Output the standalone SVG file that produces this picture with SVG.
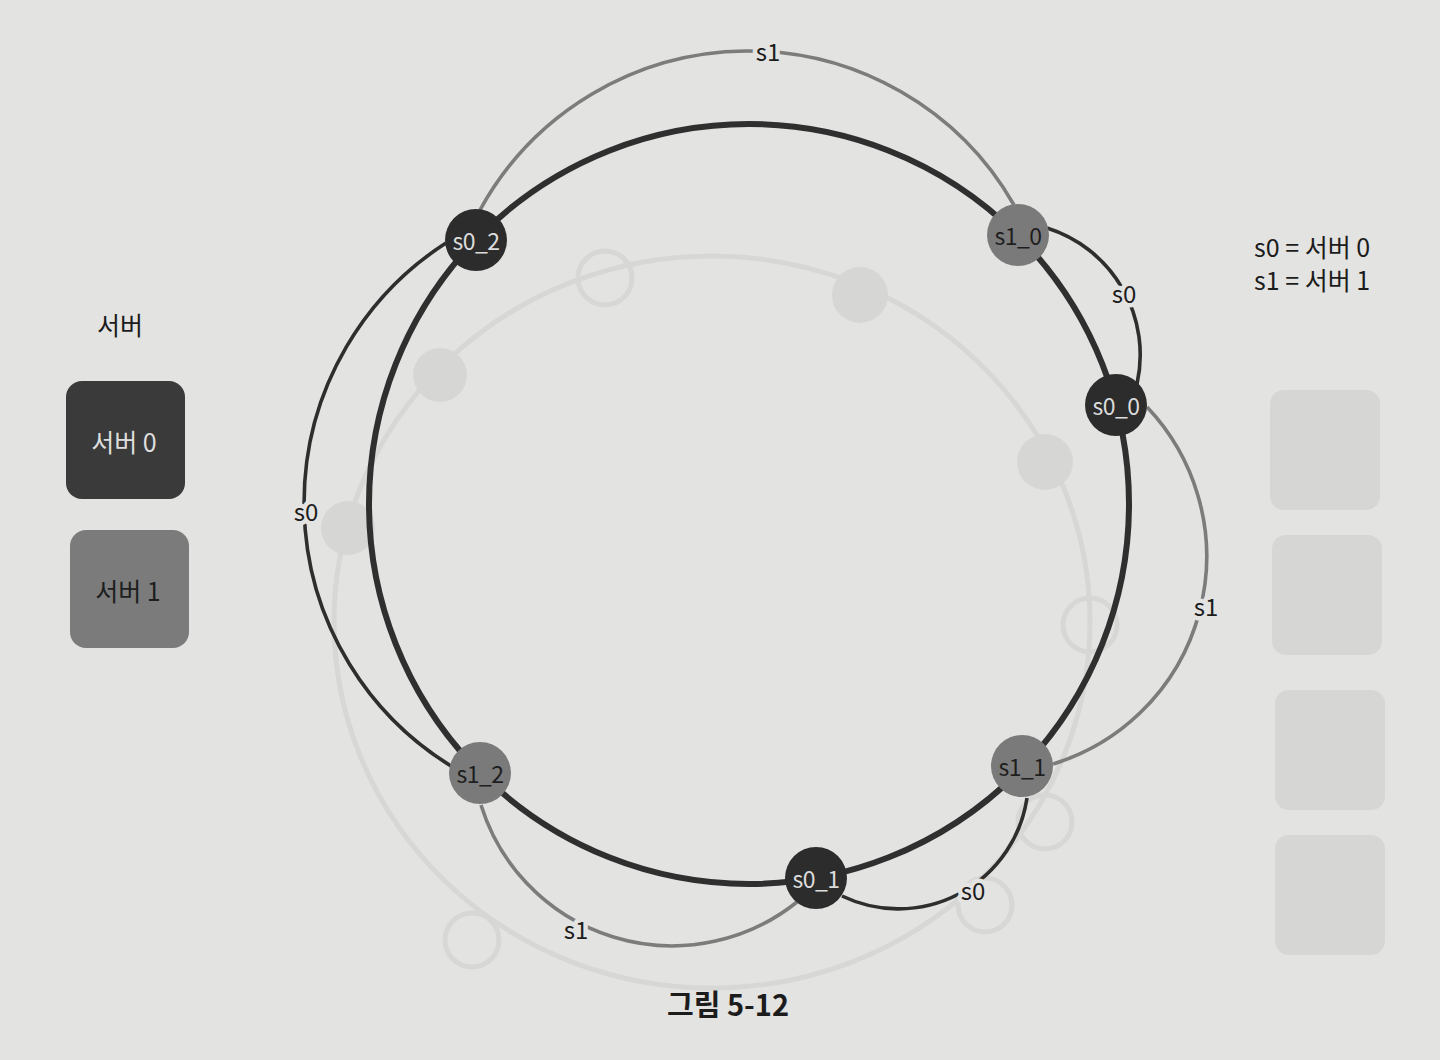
<svg xmlns="http://www.w3.org/2000/svg" width="1440" height="1060" viewBox="0 0 1440 1060">
<style>
text{font-family:"Noto Sans CJK KR","Noto Sans",sans-serif;}
.ring{fill:none;stroke:#2f2f2f;stroke-width:6}
.a0{fill:none;stroke:#2e2e2e;stroke-width:3.6}
.a1{fill:none;stroke:#7c7c7c;stroke-width:3.6}
.lbl{font-size:24px;fill:#1c1c1c;text-anchor:middle;dominant-baseline:central;stroke:#e3e3e1;stroke-width:9;paint-order:stroke;stroke-linejoin:round}
.n0{fill:#2c2c2c}
.n1{fill:#7a7a7a}
.t0{font-size:23px;fill:#dcdcdc;text-anchor:middle;dominant-baseline:central;letter-spacing:-0.5px}
.t1{font-size:23px;fill:#1e1e1e;text-anchor:middle;dominant-baseline:central;letter-spacing:-0.5px}
.ghost{fill:none;stroke:#d7d7d5;stroke-width:5}
.ghostf{fill:#d6d6d4}
.leg{font-size:25px;fill:#1c1c1c}
</style>
<rect width="1440" height="1060" fill="#e3e3e1"/>
<g id="bleed-through">
<ellipse class="ghost" cx="712" cy="622" rx="378" ry="366"/>
<circle cx="605" cy="278" r="27" fill="#e3e3e1" class="ghost"/>
<circle cx="860" cy="295" r="28" class="ghostf"/>
<circle cx="440" cy="375" r="27" class="ghostf"/>
<circle cx="1045" cy="462" r="28" class="ghostf"/>
<circle cx="348" cy="528" r="27" class="ghostf"/>
<circle cx="1090" cy="625" r="27" fill="#e3e3e1" class="ghost"/>
<circle cx="1045" cy="822" r="27" fill="#e3e3e1" class="ghost"/>
<circle cx="985" cy="905" r="27" fill="#e3e3e1" class="ghost"/>
<circle cx="472" cy="940" r="27" fill="#e3e3e1" class="ghost"/>
<rect x="1270" y="390" width="110" height="120" rx="14" class="ghostf"/>
<rect x="1272" y="535" width="110" height="120" rx="14" class="ghostf"/>
<rect x="1275" y="690" width="110" height="120" rx="14" class="ghostf"/>
<rect x="1275" y="835" width="110" height="120" rx="14" class="ghostf"/>
</g>
<g id="legend">
<text class="leg" x="120" y="335" text-anchor="middle">서버</text>
<rect x="66" y="381" width="119" height="118" rx="16" fill="#3a3a3a"/>
<text x="124" y="441" font-size="25" fill="#dedede" text-anchor="middle" dominant-baseline="central">서버 0</text>
<rect x="70" y="530" width="119" height="118" rx="16" fill="#7b7b7b"/>
<text x="128" y="590" font-size="25" fill="#1e1e1e" text-anchor="middle" dominant-baseline="central">서버 1</text>
</g>
<g id="key">
<text class="leg" x="1254" y="257">s0 = 서버 0</text>
<text class="leg" x="1254" y="290">s1 = 서버 1</text>
</g>
<g id="connectors">
<circle class="ring" cx="749" cy="504" r="380"/>
<path class="a1" d="M 480 210 A 306 306 0 0 1 1014 205"/>
<path class="a0" d="M 1047 228 A 133 133 0 0 1 1137 384"/>
<path class="a1" d="M 1147 407 A 217 217 0 0 1 1053 764"/>
<path class="a0" d="M 1027 798 A 130 130 0 0 1 842 896"/>
<path class="a1" d="M 797 902 A 200 200 0 0 1 481 805"/>
<path class="a0" d="M 451 766 A 309 309 0 0 1 446 243"/>
<text class="lbl" x="768" y="50">s1</text>
<text class="lbl" x="1124" y="292">s0</text>
<text class="lbl" x="1206" y="605">s1</text>
<text class="lbl" x="973" y="889">s0</text>
<text class="lbl" x="576" y="928">s1</text>
<text class="lbl" x="306" y="510">s0</text>
</g>
<g id="node-s0_2"><circle class="n0" cx="476" cy="240" r="31"/><text class="t0" x="476" y="240">s0_2</text></g>
<g id="node-s1_0"><circle class="n1" cx="1018" cy="235" r="31"/><text class="t1" x="1018" y="235">s1_0</text></g>
<g id="node-s0_0"><circle class="n0" cx="1116" cy="405" r="31"/><text class="t0" x="1116" y="405">s0_0</text></g>
<g id="node-s1_1"><circle class="n1" cx="1022" cy="766" r="31"/><text class="t1" x="1022" y="766">s1_1</text></g>
<g id="node-s0_1"><circle class="n0" cx="816" cy="878" r="31"/><text class="t0" x="816" y="878">s0_1</text></g>
<g id="node-s1_2"><circle class="n1" cx="480" cy="773" r="31"/><text class="t1" x="480" y="773">s1_2</text></g>
<g id="caption">
<text x="728" y="1003" font-size="29" font-weight="bold" fill="#1c1c1c" text-anchor="middle" dominant-baseline="central">그림 5-12</text>
</g>
</svg>
